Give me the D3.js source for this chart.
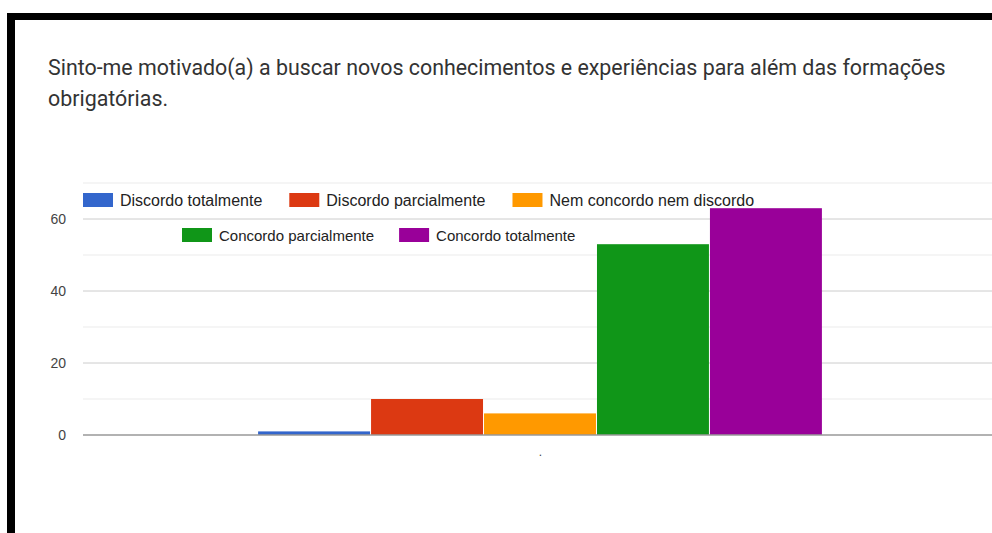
<!DOCTYPE html>
<html><head><meta charset="utf-8">
<script src="https://cdn.jsdelivr.net/npm/d3@7"></script>
<style>body{margin:0;background:#fff;}svg{display:block;}</style>
</head><body>
<script>
const titleLines = ["Sinto-me motivado(a) a buscar novos conhecimentos e experiências para além das formações", "obrigatórias."];
const categories = ["."];
const seriesNames = ["Discordo totalmente", "Discordo parcialmente", "Nem concordo nem discordo", "Concordo parcialmente", "Concordo totalmente"];
const seriesValues = [1, 10, 6, 53, 63];
const seriesColors = ["#3366cc", "#dc3912", "#ff9900", "#109618", "#990099"];
const yTicks = [0, 20, 40, 60];
const yGrid = [0, 10, 20, 30, 40, 50, 60, 70];

(function () {
const W = 992, H = 533;
const svg = d3.select("body").append("svg").attr("width", W).attr("height", H);
svg.append("rect").attr("width", W).attr("height", H).attr("fill", "#fff");

// black frame
svg.append("rect").attr("x", 7).attr("y", 13).attr("width", W - 7).attr("height", 7).attr("fill", "#000");
svg.append("rect").attr("x", 7).attr("y", 13).attr("width", 8).attr("height", H - 13).attr("fill", "#000");

// title
svg.append("g").selectAll("text").data(titleLines).join("text")
  .attr("x", 48).attr("y", (d, i) => 75 + i * 31)
  .attr("font-family", "Roboto, sans-serif").attr("font-size", 21.4).attr("fill", "#333")
  .text(d => d);

const pLeft = 83, pRight = 998, pTop = 183, pBottom = 435;
const y = d3.scaleLinear().domain([0, 70]).range([pBottom, pTop]);
const x0 = d3.scaleBand().domain(categories).range([pLeft, pRight]).paddingInner(0).paddingOuter(0.31);
const x1 = d3.scaleBand().domain(seriesNames).range([0, x0.bandwidth()]).padding(0);

// gridlines
svg.append("g").selectAll("line").data(yGrid.filter(v => v !== 0)).join("line")
  .attr("x1", pLeft).attr("x2", W).attr("y1", d => y(d)).attr("y2", d => y(d))
  .attr("stroke", d => d % 20 === 0 ? "#cccccc" : "#ebebeb").attr("stroke-width", 1);

// y axis labels
const yAxis = d3.axisLeft(y).tickValues(yTicks).tickSize(0).tickPadding(0).tickFormat(d3.format("d"));
const ya = svg.append("g").attr("transform", `translate(66,0)`).call(yAxis);
ya.select(".domain").remove();
ya.selectAll("text").attr("font-family", "Arial, 'Liberation Sans', sans-serif").attr("font-size", 14).attr("fill", "#444");

// bars
const g = svg.append("g");
categories.forEach((c, ci) => {
  g.selectAll("rect.b" + ci).data(seriesValues).join("rect")
    .attr("x", (d, i) => x0(c) + x1(seriesNames[i]))
    .attr("y", d => y(d))
    .attr("width", x1.bandwidth() - 1)
    .attr("height", d => pBottom - y(d))
    .attr("fill", (d, i) => seriesColors[i]);
});

// baseline
svg.append("line").attr("x1", pLeft).attr("x2", W).attr("y1", pBottom).attr("y2", pBottom)
  .attr("stroke", "#999").attr("stroke-width", 1.5);

// category label
const xAxis = d3.axisBottom(x0).tickSize(0).tickPadding(12);
const xa = svg.append("g").attr("transform", `translate(0,${pBottom})`).call(xAxis);
xa.select(".domain").remove();
xa.selectAll("text").attr("font-family", "Arial, sans-serif").attr("font-size", 12).attr("fill", "#444");

// legend
const rows = [{start: 83, y: 193, fs: 16, gap: 27, items: [0, 1, 2]}, {start: 182, y: 228, fs: 15, gap: 25, items: [3, 4]}];
const lg = svg.append("g");
rows.forEach(r => {
  let xx = r.start;
  r.items.forEach(i => {
    lg.append("rect").attr("x", xx).attr("y", r.y).attr("width", 30).attr("height", 14).attr("fill", seriesColors[i]);
    const t = lg.append("text").attr("x", xx + 37).attr("y", r.y + 12.5)
      .attr("font-family", "Arial, 'Liberation Sans', sans-serif").attr("font-size", r.fs).attr("fill", "#222")
      .text(seriesNames[i]);
    xx += 37 + t.node().getComputedTextLength() + r.gap;
  });
});
})();
</script>
</body></html>
